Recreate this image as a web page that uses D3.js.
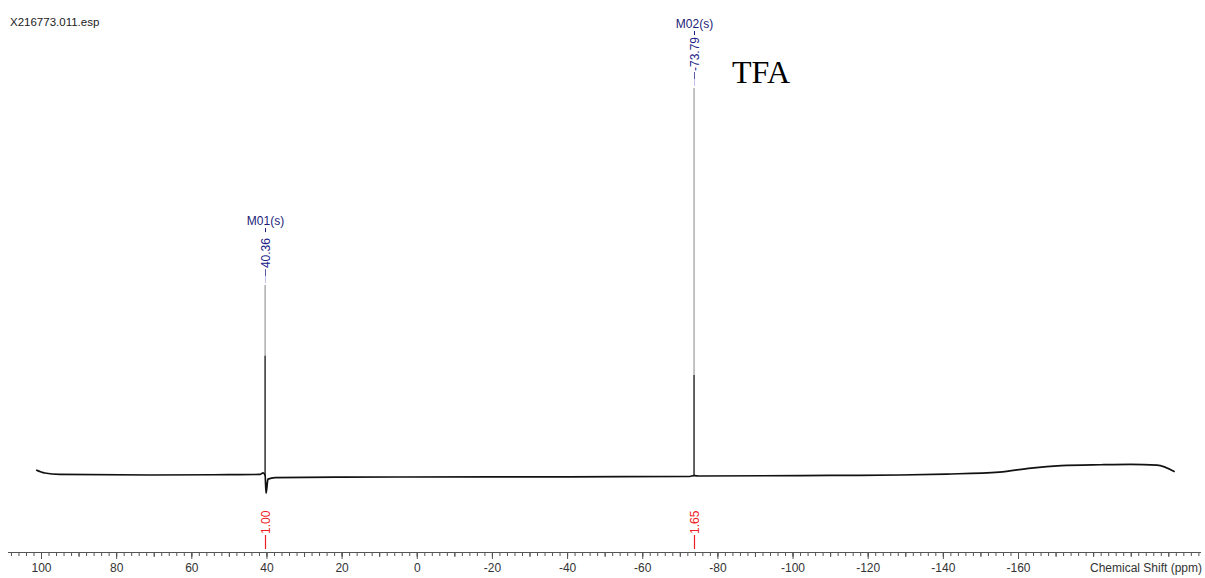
<!DOCTYPE html>
<html>
<head>
<meta charset="utf-8">
<script src="https://cdn.jsdelivr.net/npm/d3@7"></script>
<style>
  body { margin: 0; background: #fff; }
  svg { display: block; }
  text { font-family: "Liberation Sans", Arial, sans-serif; }
</style>
</head>
<body>
<div id="chart"></div>
<script>
// spectrum data (ppm, intensity in arbitrary units)
var baselinePpm = [101.3, 99.0, 95.0, 71.0, 50.0, 41.7, 40.9, 40.36, 40.1, 39.6, 37.7, 20.0, 4.5, -40.0, -72.6, -73.79, -75.3, -110.0, -128.5, -141.0, -155.0, -163.5, -171.5, -182.0, -190.0, -197.0, -201.7];
var baselineInt = [1.55, 0.77, 0.4, 0.26, 0.35, 0.4, 0.8, 0.2, -4.4, -0.8, -0.4, -0.3, -0.26, -0.2, -0.13, 0.1, 0.0, 0.15, 0.26, 0.5, 1.0, 2.05, 2.65, 2.9, 3.0, 2.8, 1.1];

// peaks: position, height, and the dark core height
var peakPpm = [40.36, -73.79];
var peakHeight = [49.2, 100];
var peakCore = [31, 26];
var peakNames = ["M01(s)", "M02(s)"];
var peakLabels = ["40.36", "-73.79"];

// integrals
var integralPpm = [40.36, -73.79];
var integralLabels = ["1.00", "1.65"];

var tickValues = [100, 80, 60, 40, 20, 0, -20, -40, -60, -80, -100, -120, -140, -160];

var width = 1205, height = 578;

var x = d3.scaleLinear().domain([100, -160]).range([41, 1018]);
var y = d3.scaleLinear().domain([0, 100]).range([476, 88]);

var svg = d3.select("#chart").append("svg")
  .attr("width", width)
  .attr("height", height);

// file name
svg.append("text")
  .attr("x", 10).attr("y", 26)
  .style("font-size", "11.5px")
  .style("fill", "#222")
  .text("X216773.011.esp");

// TFA note
svg.append("text")
  .attr("x", 732).attr("y", 83)
  .style("font-family", "'Liberation Serif', 'Times New Roman', serif")
  .style("font-size", "32px")
  .style("fill", "#000")
  .text("TFA");

// peaks (drawn before baseline so baseline sits on top)
var peaks = svg.append("g");
peakPpm.forEach(function(p, i) {
  peaks.append("line")
    .attr("x1", x(p)).attr("x2", x(p))
    .attr("y1", y(0)).attr("y2", y(peakHeight[i]))
    .style("stroke", "#9a9a9a")
    .style("stroke-width", 1.2);
  peaks.append("line")
    .attr("x1", x(p)).attr("x2", x(p))
    .attr("y1", y(0)).attr("y2", y(peakCore[i]))
    .style("stroke", "#222")
    .style("stroke-width", 1.2);
});

// baseline
var pts = baselinePpm.map(function(p, i) { return [p, baselineInt[i]]; });
var line = d3.line()
  .x(function(d) { return x(d[0]); })
  .y(function(d) { return y(d[1]); })
  .curve(d3.curveMonotoneX);

svg.append("path")
  .datum(pts)
  .attr("d", line)
  .style("fill", "none")
  .style("stroke", "#111")
  .style("stroke-width", 1.7);

// peak labels
peakPpm.forEach(function(p, i) {
  var px = Math.round(x(p)) + 0.5;
  var top = y(peakHeight[i]);
  var nameY = top - 60;
  svg.append("text")
    .attr("x", px).attr("y", nameY)
    .attr("text-anchor", "middle")
    .style("font-size", "12px")
    .style("fill", "#1c1c78")
    .text(peakNames[i]);
  svg.append("line")
    .attr("x1", px).attr("x2", px)
    .attr("y1", nameY + 3).attr("y2", nameY + 7)
    .style("stroke", "#1c1c78");
  svg.append("text")
    .attr("transform", "translate(" + (px + 4) + "," + (top - 17) + ") rotate(-90)")
    .attr("text-anchor", "start")
    .style("font-size", "12px")
    .style("fill", "#23238a")
    .text(peakLabels[i]);
  svg.append("line")
    .attr("x1", px).attr("x2", px)
    .attr("y1", top - 16).attr("y2", top - 9)
    .style("stroke", "#5a5aa8");
  svg.append("line")
    .attr("x1", px).attr("x2", px)
    .attr("y1", top - 9).attr("y2", top - 2)
    .style("stroke", "#c0c0e8");
});

// integral labels
integralPpm.forEach(function(p, i) {
  var px = Math.round(x(p)) + 0.5;
  svg.append("text")
    .attr("transform", "translate(" + (px + 4) + ",534) rotate(-90)")
    .attr("text-anchor", "start")
    .style("font-size", "12px")
    .style("fill", "#f01c24")
    .text(integralLabels[i]);
  svg.append("line")
    .attr("x1", px).attr("x2", px)
    .attr("y1", 535).attr("y2", 549)
    .style("stroke", "#f01c24")
    .style("stroke-width", 1.2);
});

// axis
var axisY = 552;
var minorTicks = d3.range(108, -210, -2);
var gMinor = svg.append("g")
  .attr("transform", "translate(0," + axisY + ")")
  .call(d3.axisBottom(x).tickValues(minorTicks).tickSize(4).tickFormat(""));
gMinor.select(".domain").remove();

var midTicks = d3.range(100, -210, -10);
var gMid = svg.append("g")
  .attr("transform", "translate(0," + axisY + ")")
  .call(d3.axisBottom(x).tickValues(midTicks).tickSize(5).tickFormat(""));
gMid.select(".domain").remove();

var gAxis = svg.append("g")
  .attr("transform", "translate(0," + axisY + ")")
  .call(d3.axisBottom(x).tickValues(tickValues).tickSize(7).tickPadding(4)
    .tickFormat(function(d) { return String(d); }));
gAxis.select(".domain").remove();
gAxis.selectAll("text")
  .style("font-size", "12px")
  .style("fill", "#333")
  .style("font-family", "'Liberation Sans', Arial, sans-serif");

svg.selectAll(".tick line").style("stroke", "#555");

svg.append("line")
  .attr("x1", 8).attr("x2", 1201)
  .attr("y1", axisY + 0.5).attr("y2", axisY + 0.5)
  .style("stroke", "#555");

svg.append("text")
  .attr("x", 1202).attr("y", 572)
  .attr("text-anchor", "end")
  .style("font-size", "12px")
  .style("fill", "#333")
  .text("Chemical Shift (ppm)");
</script>
</body>
</html>
